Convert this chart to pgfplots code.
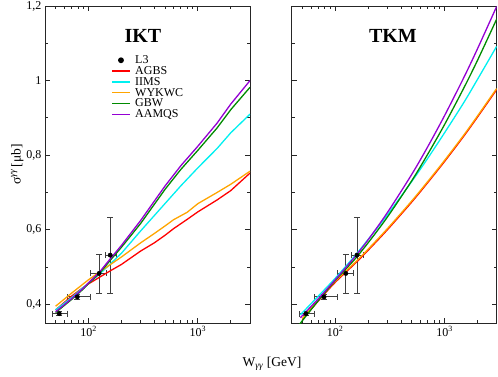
\documentclass[border=0pt]{standalone}
\usepackage{fontspec}
\setmainfont{Liberation Serif}
\usepackage{pgfplots}
\usepackage{pgfplotstable}
\pgfplotsset{compat=1.18}
\definecolor{cAGBS}{RGB}{255,0,0}
\definecolor{cIIMS}{RGB}{0,240,240}
\definecolor{cWYK}{RGB}{255,165,0}
\definecolor{cGBW}{RGB}{0,139,0}
\definecolor{cAAM}{RGB}{148,0,211}
\pgfplotstableread{
x y xm xp ym yp
54 0.375 7.3 10 0.005 0.005
79 0.420 15 26 0.008 0.008
125 0.483 20 21 0.053 0.052
158 0.532 16 23 0.102 0.102
}\ldata
\begin{document}
\begin{tikzpicture}
\useasboundingbox (0,0) rectangle (498pt,376pt);
% ---------------- IKT ----------------
\begin{axis}[scale only axis, width=205pt, height=317pt,
    xmode=log, xmin=40, xmax=3000, ymin=0.35, ymax=1.2,
    xtick={100,1000}, xticklabels={10\textsuperscript{2},10\textsuperscript{3}},
    minor xtick={50,60,70,80,90,200,300,400,500,600,700,800,900,2000,3000},
    ytick={0.4,0.6,0.8,1,1.2},
    minor ytick={0.5,0.7,0.9,1.1},
    tick align=inside,
    axis line style={line width=0.9pt, black!85},
    every tick/.style={line width=0.8pt, black!85},
    major tick length=5pt, minor tick length=3pt,
    tick label style={font=\fontsize{12}{13}\selectfont},
    at={(45pt,53pt)}, anchor=south west,
  yticklabels={{0,4},{0,6},{0,8},1,{1,2}},
  ylabel={σ\textsuperscript{\itshape γγ}\,[μb]},
  ylabel style={font=\fontsize{13.5}{15}\selectfont, yshift=-4pt},
  legend style={at={(rel axis cs:0.31,0.857)}, anchor=north west, draw=none, fill=none,
    font=\fontsize{12}{13}\selectfont, row sep=-2.6pt, column sep=3pt},
  legend cell align=left,
  legend image post style={line width=1.4pt},
]
\addplot[only marks, mark=*, black, mark size=2.2pt,
    error bars/.cd, x dir=both, x explicit, y dir=both, y explicit,
    error bar style={black!75, line width=0.8pt},
    error mark=-,
    error mark options={rotate=90, black!75, line width=0.8pt, mark size=3pt}]
  table[x=x, y=y, x error minus=xm, x error plus=xp, y error minus=ym, y error plus=yp] {\ldata};
\addlegendentry{L3}
\addplot[cAGBS, line width=1.3pt] coordinates {(50,0.385)(70,0.422)(91,0.447)(100,0.455)(150,0.486)(200,0.507)(300,0.543)(400,0.565)(500,0.585)(600,0.603)(800,0.628)(1000,0.648)(1500,0.680)(2000,0.705)(3000,0.752)};
\addlegendentry{AGBS}
\addplot[cIIMS, line width=1.3pt] coordinates {(50,0.385)(70,0.418)(91,0.447)(100,0.457)(125,0.480)(158,0.508)(200,0.537)(300,0.597)(500,0.670)(700,0.718)(1000,0.766)(1500,0.818)(2000,0.860)(3000,0.910)};
\addlegendentry{IIMS}
\addplot[cWYK, line width=1.3pt] coordinates {(50,0.395)(70,0.430)(100,0.466)(150,0.502)(200,0.527)(300,0.565)(400,0.590)(500,0.610)(600,0.627)(800,0.647)(1000,0.670)(1500,0.700)(2000,0.722)(3000,0.757)};
\addlegendentry{WYKWC}
\addplot[cGBW, line width=1.3pt] coordinates {(50,0.378)(70,0.413)(91,0.443)(100,0.456)(125,0.482)(158,0.518)(200,0.553)(300,0.617)(500,0.708)(700,0.762)(1000,0.813)(1500,0.873)(2000,0.922)(3000,0.982)};
\addlegendentry{GBW}
\addplot[cAAM, line width=1.3pt] coordinates {(50,0.380)(70,0.415)(91,0.445)(100,0.458)(125,0.485)(158,0.522)(200,0.558)(300,0.625)(500,0.717)(700,0.772)(1000,0.824)(1500,0.886)(2000,0.937)(3000,1.000)};
\addlegendentry{AAMQS}
\node[font=\fontsize{20}{22}\selectfont\bfseries] at (rel axis cs:0.478,0.905) {IKT};
\end{axis}
% ---------------- TKM ----------------
\begin{axis}[scale only axis, width=205pt, height=317pt,
    xmode=log, xmin=40, xmax=3000, ymin=0.35, ymax=1.2,
    xtick={100,1000}, xticklabels={10\textsuperscript{2},10\textsuperscript{3}},
    minor xtick={50,60,70,80,90,200,300,400,500,600,700,800,900,2000,3000},
    ytick={0.4,0.6,0.8,1,1.2},
    minor ytick={0.5,0.7,0.9,1.1},
    tick align=inside,
    axis line style={line width=0.9pt, black!85},
    every tick/.style={line width=0.8pt, black!85},
    major tick length=5pt, minor tick length=3pt,
    tick label style={font=\fontsize{12}{13}\selectfont},
    at={(291.7pt,53pt)}, anchor=south west,
  yticklabels={},
]
\addplot[only marks, mark=*, black, mark size=2.2pt,
    error bars/.cd, x dir=both, x explicit, y dir=both, y explicit,
    error bar style={black!75, line width=0.8pt},
    error mark=-,
    error mark options={rotate=90, black!75, line width=0.8pt, mark size=3pt}]
  table[x=x, y=y, x error minus=xm, x error plus=xp, y error minus=ym, y error plus=yp] {\ldata};
\addplot[cAGBS, smooth, line width=1.3pt] coordinates {(50,0.359)(70,0.409)(100,0.459)(150,0.508)(200,0.545)(300,0.600)(500,0.674)(700,0.726)(1000,0.783)(1500,0.851)(2000,0.902)(3000,0.976)};
\addplot[cIIMS, smooth, line width=1.3pt] coordinates {(48,0.372)(70,0.422)(100,0.470)(150,0.529)(200,0.574)(300,0.640)(500,0.729)(700,0.791)(1000,0.860)(1500,0.941)(2000,1.003)(3000,1.092)};
\addplot[cWYK, smooth, line width=1.3pt] coordinates {(50,0.362)(70,0.412)(100,0.462)(150,0.511)(200,0.548)(300,0.603)(500,0.677)(700,0.729)(1000,0.786)(1500,0.854)(2000,0.905)(3000,0.979)};
\addplot[cGBW, smooth, line width=1.3pt] coordinates {(47,0.345)(50,0.356)(70,0.410)(100,0.464)(150,0.520)(200,0.565)(300,0.634)(500,0.731)(700,0.802)(1000,0.882)(1500,0.980)(2000,1.054)(3000,1.165)};
\addplot[cAAM, smooth, line width=1.3pt] coordinates {(48,0.364)(70,0.415)(100,0.466)(150,0.526)(200,0.573)(300,0.646)(500,0.748)(700,0.822)(1000,0.906)(1500,1.008)(2000,1.085)(3000,1.199)};
\node[font=\fontsize{20}{22}\selectfont\bfseries] at (rel axis cs:0.494,0.905) {TKM};
\end{axis}
\node[font=\fontsize{13.5}{15}\selectfont] at (272pt,12pt) {W\textsubscript{\itshape γγ} [GeV]};
\end{tikzpicture}
\end{document}
